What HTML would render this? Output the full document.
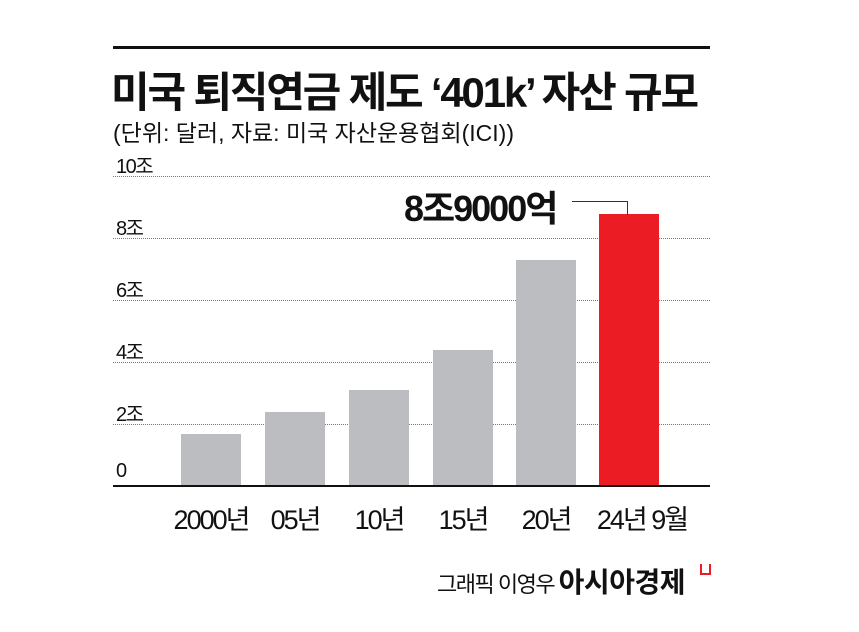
<!DOCTYPE html>
<html><head><meta charset="utf-8"><style>
body{margin:0;background:#fff;width:859px;height:632px;overflow:hidden;position:relative;font-family:"Liberation Sans","Noto Sans CJK KR",sans-serif;color:#111}
.a{position:absolute;white-space:nowrap}
.g{position:absolute;left:113px;width:597px;border-top:1.5px dotted #777}
.b{position:absolute;background:#bcbdc0;width:60px}
.y{position:absolute;left:116px;font-size:20px;letter-spacing:-1.5px}
.x{position:absolute;top:498px;font-size:27px;letter-spacing:-2px;width:130px;text-align:center}
</style></head><body>
<div class="a" style="left:113px;top:46px;width:597px;height:3px;background:#111"></div>
<div class="a" style="left:111px;top:59px;font-size:42px;font-weight:bold;letter-spacing:-2.2px">미국 퇴직연금 제도 ‘401k’ 자산 규모</div>
<div class="a" style="left:113px;top:114px;font-size:23px;letter-spacing:0px">(단위: 달러, 자료: 미국 자산운용협회(ICI))</div>
<div class="y" style="top:150px">10조</div><div class="g" style="top:176px"></div>
<div class="y" style="top:212px">8조</div><div class="g" style="top:238px"></div>
<div class="y" style="top:274px">6조</div><div class="g" style="top:300px"></div>
<div class="y" style="top:336px">4조</div><div class="g" style="top:362px"></div>
<div class="y" style="top:398px">2조</div><div class="g" style="top:424px"></div>
<div class="y" style="top:460px">0</div>
<div class="b" style="left:181px;top:434px;height:52px"></div>
<div class="b" style="left:265px;top:412px;height:74px"></div>
<div class="b" style="left:349px;top:390px;height:96px"></div>
<div class="b" style="left:433px;top:350px;height:136px"></div>
<div class="b" style="left:516px;top:260px;height:226px"></div>
<div class="b" style="left:599px;top:214px;height:272px;background:#ec1c24"></div>
<div class="a" style="left:113px;top:485px;width:597px;height:2px;background:#111"></div>
<div class="a" style="left:404px;top:180px;font-size:36px;font-weight:bold;letter-spacing:-2px">8조9000억</div>
<div class="a" style="left:572px;top:201px;width:55px;height:13px;border-top:1px solid #333;border-right:1px solid #333"></div>
<div class="x" style="left:146px">2000년</div>
<div class="x" style="left:230px">05년</div>
<div class="x" style="left:314px">10년</div>
<div class="x" style="left:398px">15년</div>
<div class="x" style="left:481px">20년</div>
<div class="x" style="left:567px;width:150px">24년 9월</div>
<div class="a" style="left:437px;top:561px;font-size:22px;letter-spacing:-1.5px">그래픽 이영우 <b style="font-size:28px;letter-spacing:-0.5px">아시아경제</b></div>
<div class="a" style="left:700px;top:564px;width:7px;height:9px;border:2px solid #ec1c24;border-top:none"></div>
</body></html>
